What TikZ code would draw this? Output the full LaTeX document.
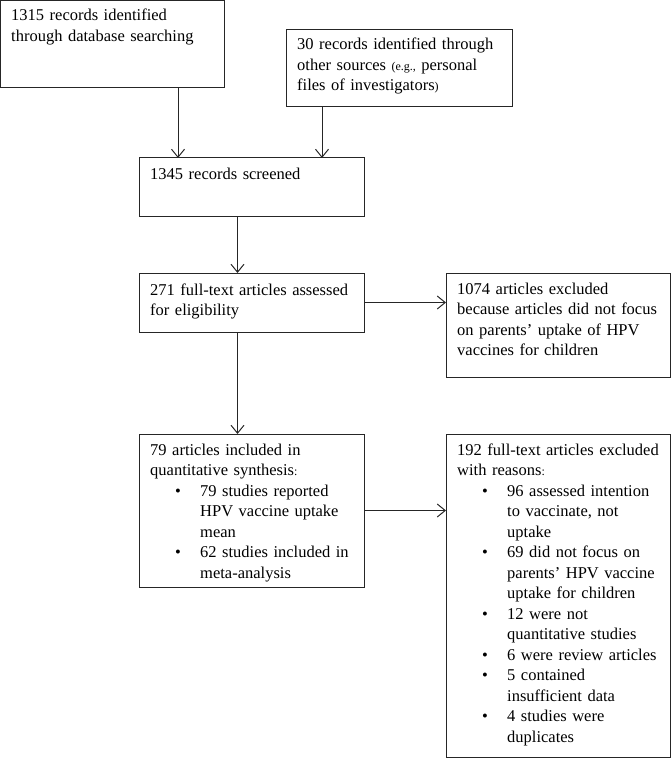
\documentclass[tikz,border=0pt]{standalone}
\usepackage{fontspec}
\setmainfont{Liberation Serif}
\usetikzlibrary{arrows.meta}
\newcommand\sml[1]{{\fontsize{12}{12}\selectfont #1}}
\newcommand\bfirst[1]{\hspace*{25pt}\makebox[25pt][l]{\textbullet}#1}
\newcommand\bcont[1]{\hspace*{50pt}#1}
\begin{document}
\begin{tikzpicture}[x=1pt,y=-1pt,
  box/.style={draw=black!85, line width=1pt, anchor=north west, inner sep=0pt, outer sep=0pt},
  txt/.style={anchor=base west, inner sep=0pt, align=left, text width=215pt,
              font=\fontsize{16.5}{20.5}\selectfont},
  arr/.style={draw=black!85, line width=1pt, -{Straight Barb[length=8pt,width=13pt,line width=1pt]}}]
\useasboundingbox (0,0) rectangle (671,759);
% boxes
\node[box, minimum width=224pt, minimum height=87.5pt] (a) at (0.5,0.5) {};
\node[box, minimum width=226pt, minimum height=77pt] (b) at (286,30) {};
\node[box, minimum width=225pt, minimum height=58pt] (c) at (139,158) {};
\node[box, minimum width=225pt, minimum height=59pt] (d) at (139,273) {};
\node[box, minimum width=224pt, minimum height=104pt] (e) at (446,273) {};
\node[box, minimum width=225pt, minimum height=153pt] (f) at (139,434) {};
\node[box, minimum width=224pt, minimum height=323pt] (g) at (446,434) {};
% texts
\node[txt] (ta) at (11,21) {1315 records identified\\through database searching};
\node[txt] (tb) at (297,50) {30 records identified through\\other sources \sml{(e.g.,} personal\\files of investigators\sml{)}};
\node[txt] (tc) at (150,180) {1345 records screened};
\node[txt] (td) at (150,295) {271 full-text articles assessed\\for eligibility};
\node[txt] (te) at (457,294) {1074 articles excluded\\because articles did not focus\\on parents’ uptake of HPV\\vaccines for children};
\node[txt] (tf) at (150,455) {79 articles included in\\quantitative synthesis\sml{:}\\
  \bfirst{79 studies reported}\\\bcont{HPV vaccine uptake}\\\bcont{mean}\\
  \bfirst{62 studies included in}\\\bcont{meta-analysis}};
\node[txt] (tg) at (457,455) {192 full-text articles excluded\\with reasons\sml{:}\\
  \bfirst{96 assessed intention}\\\bcont{to vaccinate, not}\\\bcont{uptake}\\
  \bfirst{69 did not focus on}\\\bcont{parents’ HPV vaccine}\\\bcont{uptake for children}\\
  \bfirst{12 were not}\\\bcont{quantitative studies}\\
  \bfirst{6 were review articles}\\
  \bfirst{5 contained}\\\bcont{insufficient data}\\
  \bfirst{4 studies were}\\\bcont{duplicates}};
% connectors
\coordinate (xa) at (178,0);
\coordinate (xb) at (322,0);
\coordinate (xc) at (237.5,0);
\draw[arr] (xa |- a.south) -- (xa |- c.north);
\draw[arr] (xb |- b.south) -- (xb |- c.north);
\draw[arr] (xc |- c.south) -- (xc |- d.north);
\draw[arr] (d.east) -- (d.east -| e.west);
\draw[arr] (xc |- d.south) -- (xc |- f.north);
\draw[arr] (f.east) -- (f.east -| g.west);
\end{tikzpicture}
\end{document}
